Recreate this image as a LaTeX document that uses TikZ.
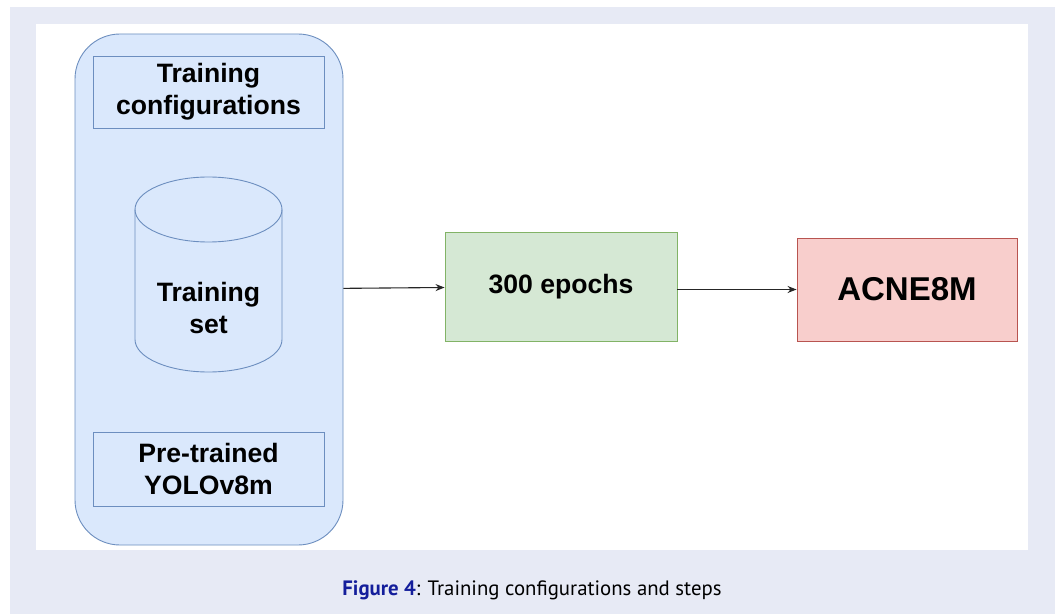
\documentclass[tikz,border=0pt]{standalone}
\usepackage{fontspec}
\setmainfont{Liberation Sans}
\newfontfamily\capfont{PT Sans}
\usetikzlibrary{arrows.meta}

\definecolor{bgLavender}{HTML}{E7EAF5}
\definecolor{blueFill}{HTML}{DAE8FC}
\definecolor{blueBorder}{HTML}{6C8EBF}
\definecolor{greenFill}{HTML}{D5E8D4}
\definecolor{greenBorder}{HTML}{82B366}
\definecolor{redFill}{HTML}{F8CECC}
\definecolor{redBorder}{HTML}{B85450}
\definecolor{capBlue}{HTML}{141E9B}

\begin{document}
\begin{tikzpicture}[x=1pt, y=1pt,
		box/.style={draw=#1Border, fill=#1Fill, line width=0.9pt, inner sep=0pt,
			align=center, font=\bfseries\fontsize{26.6}{32}\selectfont},
		link/.style={-{Stealth[length=9pt, width=7pt]}, line width=1.1pt, draw=black!85}]
		% ==================================================
		% 1. 参数设置
		% ==================================================
		% 圆柱 (训练集) 的位置与大小
		\def\cylX{208.5}   % 中心 x
		\def\cylTop{437}   % 顶部 y
		\def\cylBot{242}   % 底部 y
		\def\cylRx{73.5}   % 椭圆半轴 x
		\def\cylRy{32.5}   % 椭圆半轴 y
		% ==================================================

		% 2. 背景
		\useasboundingbox (0,0) rectangle (1060,614);
		\fill[white] (0,0) rectangle (1060,614);
		\fill[bgLavender] (10,0) rectangle (1055,607);
		\fill[white] (36,64) rectangle (1028,590);

		% 3. 左侧大框及其内容
		\node[box=blue, rounded corners=45pt, minimum width=268pt, minimum height=511pt]
			(group) at (209,324.5) {};
		\node[box=blue, minimum width=231pt, minimum height=72pt]
			(config) at (208.5,522) {Training\\configurations};
		\node[box=blue, minimum width=231pt, minimum height=74pt]
			(pretrained) at (208.5,145) {Pre-trained\\YOLOv8m};

		% 圆柱:侧面 + 顶部椭圆
		\draw[draw=blueBorder, fill=blueFill, line width=0.9pt]
			(\cylX-\cylRx, \cylTop-\cylRy) -- (\cylX-\cylRx, \cylBot+\cylRy)
			arc(180:360:\cylRx pt and \cylRy pt)
			-- (\cylX+\cylRx, \cylTop-\cylRy)
			arc(0:180:\cylRx pt and \cylRy pt) -- cycle;
		\draw[draw=blueBorder, line width=0.9pt]
			(\cylX-\cylRx, \cylTop-\cylRy) arc(180:360:\cylRx pt and \cylRy pt);
		\node[align=center, font=\bfseries\fontsize{26.6}{32}\selectfont]
			(trainset) at (\cylX,306) {Training\\set};

		% 4. 右侧步骤
		\node[box=green, minimum width=232pt, minimum height=109pt]
			(epochs) at (561,327.5) {300 epochs};
		\node[box=red, minimum width=220pt, minimum height=103pt,
			font=\bfseries\fontsize{33}{38}\selectfont]
			(acne) at (907,324.5) {ACNE8M};

		% 5. 箭头
		\draw[link] (group) -- (epochs);
		\draw[link] (epochs.east |- acne) -- (acne);

		% 6. 图注
		\node[anchor=base, font=\capfont\fontsize{20.8}{24}\selectfont]
			(caption) at (532,19) {\textcolor{capBlue}{\bfseries Figure 4}: Training configurations and steps};

	\end{tikzpicture}
\end{document}
